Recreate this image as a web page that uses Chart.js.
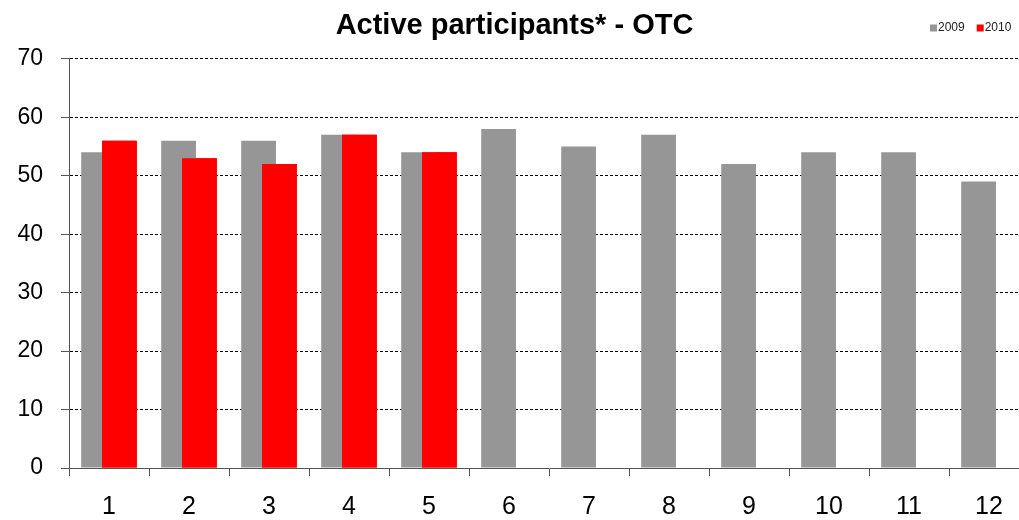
<!DOCTYPE html>
<html>
<head>
<meta charset="utf-8">
<script src="https://cdn.jsdelivr.net/npm/chart.js@4/dist/chart.umd.min.js"></script>
<style>
  html, body { margin: 0; padding: 0; background: #fff; overflow: hidden; }
  #wrap { width: 1029px; height: 520px; position: relative; }
</style>
</head>
<body>
<div id="wrap"><canvas id="chart"></canvas></div>
<script>
const months = ['1', '2', '3', '4', '5', '6', '7', '8', '9', '10', '11', '12']
const participants2009 = [54, 56, 56, 57, 54, 58, 55, 57, 52, 54, 54, 49]
const participants2010 = [56, 53, 52, 57, 54, null, null, null, null, null, null, null]
const seriesNames = ['2009', '2010']

const FONT = '"Liberation Sans", Arial, sans-serif'

// small legend in the top right corner, on the same line as the title
const cornerLegend = {
  id: 'cornerLegend',
  afterDraw(chart) {
    const ctx = chart.ctx
    ctx.save()
    ctx.font = '12px ' + FONT
    ctx.textBaseline = 'middle'
    let x = 930
    const y = 28
    chart.data.datasets.forEach(ds => {
      ctx.fillStyle = ds.backgroundColor
      ctx.fillRect(x, y - 3.5, 7, 7)
      x += 8
      ctx.fillStyle = '#222'
      ctx.fillText(ds.label, x, y)
      x += ctx.measureText(ds.label).width + 12
    })
    ctx.restore()
  }
}

// chart.js paints the first dataset last, so paint 2010 again to put it on top
const redOnTop = {
  id: 'redOnTop',
  afterDatasetsDraw(chart) {
    chart.getDatasetMeta(1).controller.draw()
  }
}

new Chart(document.getElementById('chart'), {
  type: 'bar',
  data: {
    labels: months,
    datasets: [
      {label: seriesNames[0], data: participants2009, backgroundColor: '#969696'},
      {label: seriesNames[1], data: participants2010, backgroundColor: '#ff0000'}
    ]
  },
  options: {
    responsive: true,
    maintainAspectRatio: false,
    animation: false,
    // bars wider than their slot so the red one overlaps the grey one
    categoryPercentage: 0.52,
    barPercentage: 1.67,
    layout: {padding: {left: 0, right: 0, top: 0, bottom: 0}},
    plugins: {
      legend: {display: false},
      tooltip: {enabled: false},
      title: {
        display: true,
        text: 'Active participants* - OTC',
        color: '#000',
        font: {family: FONT, size: 29, weight: 'bold'},
        padding: {top: 9, bottom: 15}
      }
    },
    scales: {
      x: {
        grid: {display: true, drawOnChartArea: false, drawTicks: true, tickLength: 8, tickColor: '#555', offset: true},
        border: {display: true, color: '#555', width: 1},
        ticks: {color: '#000', font: {family: FONT, size: 25}, padding: 16, maxRotation: 0},
        afterFit(scale) { scale.height = 52 }
      },
      y: {
        min: 0,
        max: 70,
        grid: {color: '#000', lineWidth: 1, tickLength: 8, tickColor: '#555', tickBorderDash: []},
        border: {display: true, color: '#555', width: 1, dash: [3, 2]},
        ticks: {stepSize: 10, color: '#000', font: {family: FONT, size: 23}, padding: 18},
        afterFit(scale) { scale.width = 69 }
      }
    }
  },
  plugins: [redOnTop, cornerLegend]
})
</script>
</body>
</html>
